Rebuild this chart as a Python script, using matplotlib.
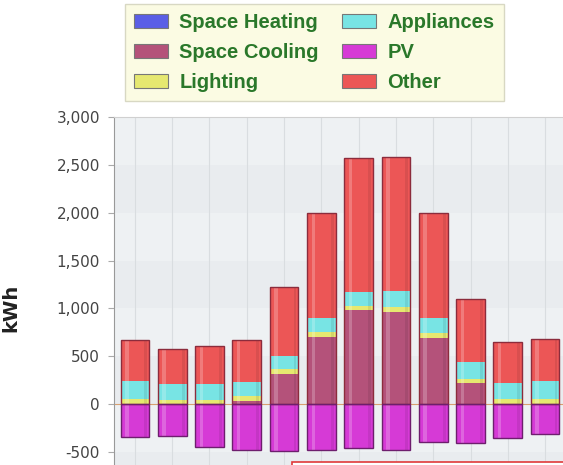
import numpy as np
import matplotlib.pyplot as plt
from matplotlib.patches import Rectangle
from matplotlib.ticker import FuncFormatter

plt.rcParams['font.family'] = ['Liberation Sans', 'DejaVu Sans']

# monthly energy use (kWh), stacked from bottom to top
months = ['Jan', 'Feb', 'Mar', 'Apr', 'May', 'Jun',
          'Jul', 'Aug', 'Sep', 'Oct', 'Nov', 'Dec']
space_heating = [0, 0, 0, 0, 0, 0, 0, 0, 0, 0, 0, 0]
space_cooling = [0, 0, 0, 30, 310, 705, 985, 965, 690, 215, 0, 0]
lighting = [50, 42, 42, 50, 52, 45, 40, 52, 50, 52, 48, 58]
appliances = [195, 165, 168, 152, 140, 145, 150, 167, 155, 175, 175, 186]
other = [425, 368, 400, 440, 718, 1105, 1400, 1401, 1105, 655, 421, 435]
pv = [-345, -334, -452, -480, -495, -481, -463, -481, -401, -410, -358, -317]

series = [
    ('Space Heating', space_heating, '#5a5ee6'),
    ('Space Cooling', space_cooling, '#b4527a'),
    ('Lighting', lighting, '#e6e870'),
    ('Appliances', appliances, '#78e4e4'),
    ('Other', other, '#ec5656'),
]
pv_color = '#d63ad6'

x = np.arange(len(months))
w = 0.77

fig = plt.figure(figsize=(5.63, 4.65), dpi=100)
ax = fig.add_axes([114 / 563, 0, 1 - 114 / 563, 1 - 117 / 465])

ax.set_facecolor('#e9ecef')
for lo in range(-1000, 3000, 1000):
    ax.axhspan(lo + 500, lo + 1000, color='#eef1f3', zorder=0, lw=0)
for xi in x:
    ax.axvline(xi, color='#d9dde0', lw=0.8, zorder=0.5)

handles = {}
bottom = np.zeros(len(x))
for name, vals, col in series:
    vals = np.array(vals, dtype=float)
    b = ax.bar(x, vals, w, bottom=bottom, color=col, lw=0, zorder=2)
    handles[name] = b
    bottom += vals
b = ax.bar(x, pv, w, color=pv_color, lw=0, zorder=2)
handles['PV'] = b

# outlines and glossy highlight
ax.bar(x, bottom, w, facecolor='none', edgecolor='#8c2c3c', lw=1.0, zorder=3)
ax.bar(x, pv, w, facecolor='none', edgecolor='#6e1e6e', lw=1.0, zorder=3)
ax.bar(x - w * 0.28, bottom, w * 0.12, color='white', alpha=0.22, lw=0, zorder=2.5)
ax.bar(x - w * 0.28, pv, w * 0.12, color='white', alpha=0.22, lw=0, zorder=2.5)
ax.bar(x + w * 0.38, bottom, w * 0.1, color='black', alpha=0.08, lw=0, zorder=2.5)
ax.bar(x + w * 0.38, pv, w * 0.1, color='black', alpha=0.08, lw=0, zorder=2.5)

ax.axhline(0, color='#d8a070', lw=0.8, zorder=1)

ax.set_xlim(-0.56, 11.48)
ax.set_ylim(-637, 3000)
ax.set_yticks(range(-500, 3001, 500))
ax.yaxis.set_major_formatter(FuncFormatter(lambda v, p: f'{int(v):,}'))
ax.tick_params(axis='y', labelsize=11, colors='#444444', length=4, width=0.8, pad=6)
ax.tick_params(axis='y', color='#aaaaaa')
for t in ax.get_yticklabels():
    t.set_family('DejaVu Sans')
ax.set_xticks([])
for s in ['right', 'bottom']:
    ax.spines[s].set_visible(False)
ax.spines['left'].set_color('#999999')
ax.spines['top'].set_color('#d0d0d0')
ax.set_ylabel('kWh', fontsize=14, fontweight='bold', color='#222222', family='DejaVu Sans')
ax.yaxis.set_label_coords(-0.209, 0.451)

order = ['Space Heating', 'Space Cooling', 'Lighting', 'Appliances', 'PV', 'Other']
leg = fig.legend([handles[n] for n in order], order, ncol=2,
                 loc='upper left', bbox_to_anchor=(125 / 563, 1 - 4 / 465),
                 borderaxespad=0,
                 prop={'size': 14.5, 'weight': 'bold'}, labelcolor='#2a782a',
                 frameon=True, fancybox=False, facecolor='#fbfbdc',
                 edgecolor='#cfcfb8', handlelength=1.7, handleheight=0.7,
                 handletextpad=0.55, columnspacing=1.15, labelspacing=0.55,
                 borderpad=0.45)
leg.get_frame().set_linewidth(1.0)
for h in leg.legend_handles:
    h.set_edgecolor('#777777')
    h.set_linewidth(0.8)

# edge of a popup box at the bottom
fig.add_artist(Rectangle((292 / 563, -0.02), 0.6, 0.02 + 3 / 465,
                         transform=fig.transFigure, facecolor='white',
                         edgecolor='#e03a3a', lw=1.2, zorder=10))

fig.savefig('out.png', dpi=100)
